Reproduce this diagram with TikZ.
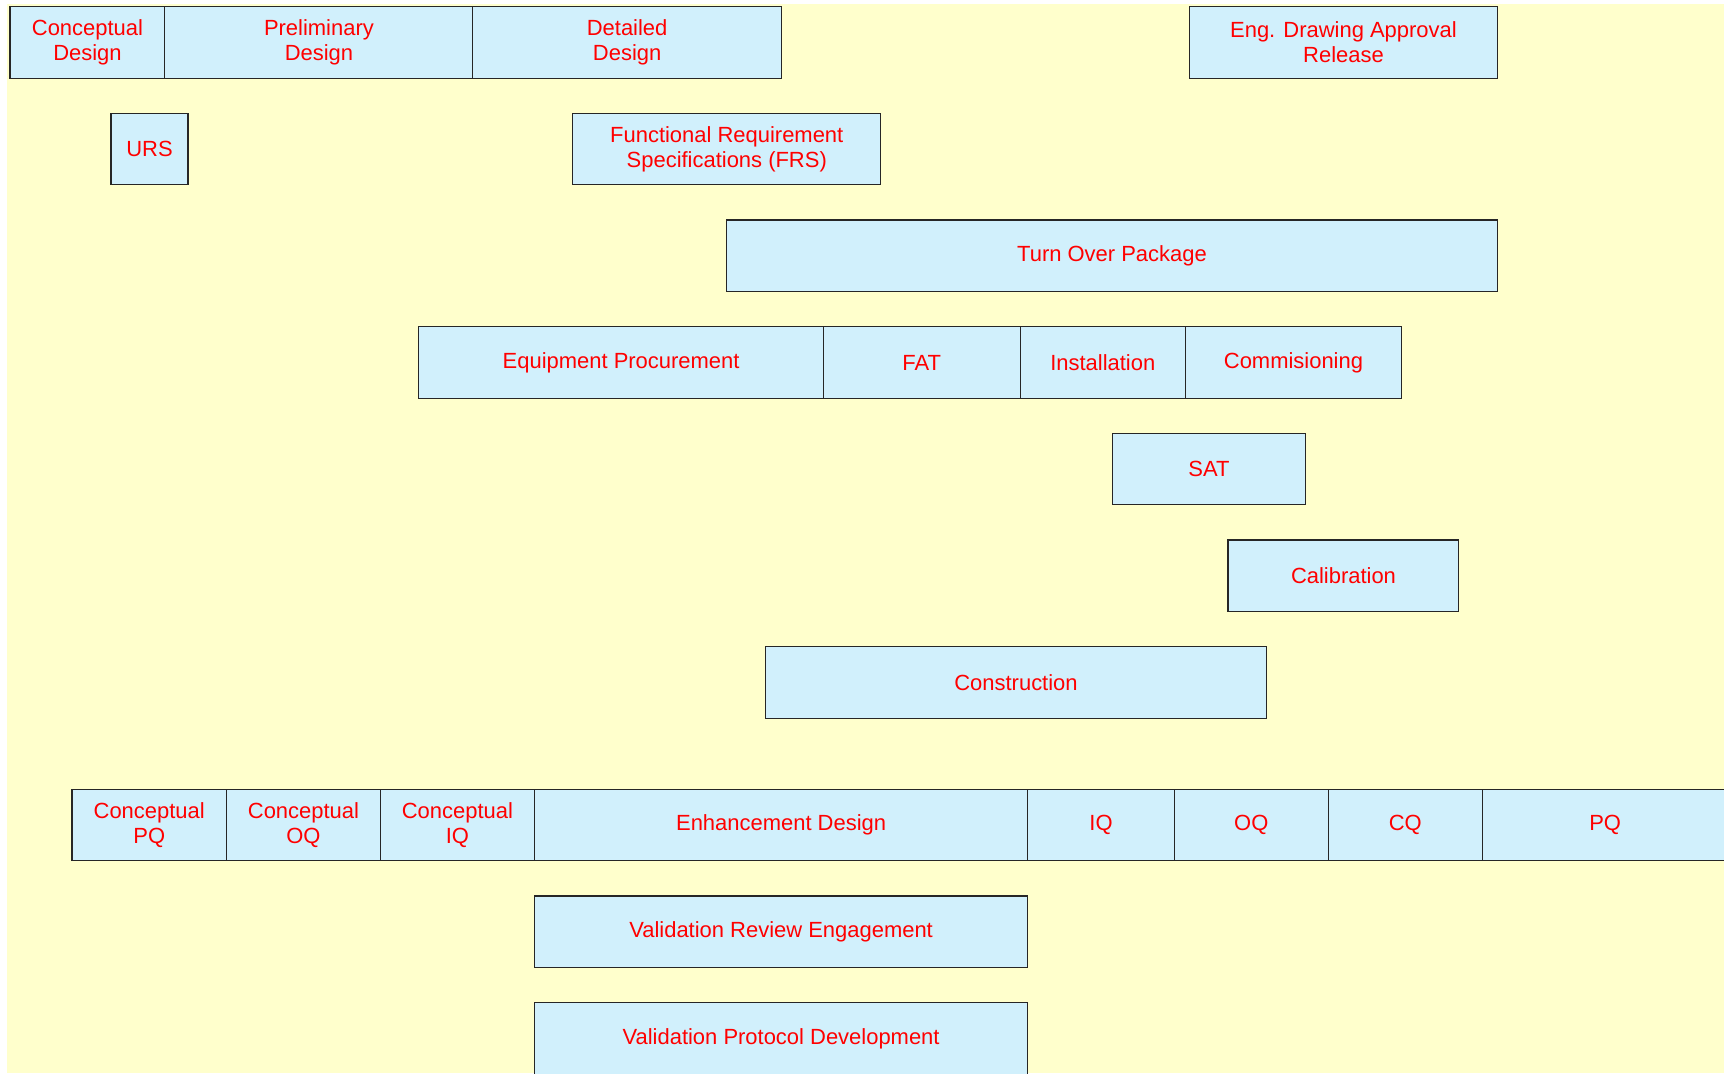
\documentclass[tikz,border=0pt]{standalone}
\usepackage{fontspec}
\setmainfont{Liberation Sans}
\usepackage{tikz}
\usetikzlibrary{positioning}

\definecolor{chartbg}{RGB}{255,255,204}
\definecolor{taskfill}{RGB}{209,240,252}
\definecolor{tasktext}{RGB}{255,0,0}

\tikzset{
  task/.style={draw=black!85, line width=0.6pt, fill=taskfill, text=tasktext,
    anchor=north west, inner sep=0pt, outer sep=0pt, minimum height=1.43cm,
    align=center, font=\fontsize{12.5}{14}\selectfont},
}

\begin{document}
\begin{tikzpicture}[x=0.02cm, y=-0.02cm]
    \useasboundingbox (0,0) rectangle (1724,1073);
    \clip (0,0) rectangle (1724,1073);
    \fill[chartbg] (7,4) rectangle (1724,1073);

    % design phases
    \node[task, minimum width=3.10cm] at (10,6.6) (concdes) {Conceptual\\Design};
    \node[task, minimum width=6.16cm] at (concdes.north east) (prelimdes) {Preliminary\\Design};
    \node[task, minimum width=6.17cm] at (prelimdes.north east) (detaildes) {Detailed\\Design};
    \node[task, minimum width=6.16cm] at (1189.5,6.6) (engdraw) {Eng. Drawing Approval\\Release};

    % specifications
    \node[task, minimum width=1.54cm] at (111,113.3) (urs) {URS};
    \node[task, minimum width=6.16cm] at (572.8,113.3) (frs) {Functional Requirement\\Specifications (FRS)};
    \node[task, minimum width=15.41cm] at (726.8,220) (turnover) {Turn Over Package};

    % procurement and install
    \node[task, minimum width=8.09cm] at (418.9,326.7) (procure) {Equipment Procurement};
    \node[task, minimum width=3.94cm] at (procure.north east) (fat) {FAT};
    \node[task, minimum width=3.30cm] at (fat.north east) (install) {Installation};
    \node[task, minimum width=4.33cm] at (install.north east) (commis) {Commisioning};
    \node[task, minimum width=3.85cm] at (1112.7,433.4) (sat) {SAT};
    \node[task, minimum width=4.62cm] at (1228,540) (calib) {Calibration};
    \node[task, minimum width=10.03cm] at (765.3,646.8) (construct) {Construction};

    % qualification
    \node[task, minimum width=3.09cm] at (72,789.4) (concpq) {Conceptual\\PQ};
    \node[task, minimum width=3.08cm] at (concpq.north east) (concoq) {Conceptual\\OQ};
    \node[task, minimum width=3.08cm] at (concoq.north east) (conciq) {Conceptual\\IQ};
    \node[task, minimum width=9.87cm] at (conciq.north east) (enhance) {Enhancement Design};
    \node[task, minimum width=2.93cm] at (enhance.north east) (iq) {IQ};
    \node[task, minimum width=3.08cm] at (iq.north east) (oq) {OQ};
    \node[task, minimum width=3.08cm] at (oq.north east) (cq) {CQ};
    \node[task, minimum width=4.92cm] at (cq.north east) (pq) {PQ};

    % validation
    \node[task, minimum width=9.87cm] at (534.4,896) (valreview) {Validation Review Engagement};
    \node[task, minimum width=9.87cm] at (534.4,1002.8) (valprotocol) {Validation Protocol Development};
\end{tikzpicture}
\end{document}
